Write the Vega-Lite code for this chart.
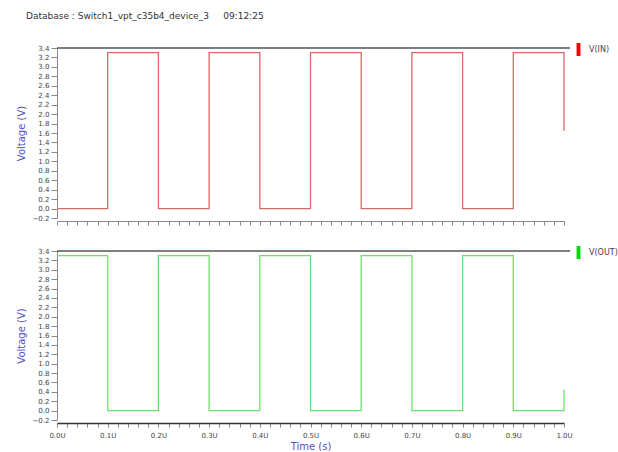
{
  "$schema": "https://vega.github.io/schema/vega-lite/v6.json",
  "padding": {"left": 16, "top": 12, "right": 5, "bottom": 0},
  "background": "white",
  "title": {"text": "Database : Switch1_vpt_c35b4_device_3\u00a0\u00a0\u00a0\u00a0\u00a009:12:25", "anchor": "start", "fontSize": 9, "font": "DejaVu Sans", "fontWeight": "normal", "color": "#333333", "offset": 22, "dx": 10},
  "datasets": {
    "vin": [
      {"i": 0, "t": 0.0, "v": 0.0, "s": "V(IN)"},
      {"i": 1, "t": 0.1, "v": 0.0, "s": "V(IN)"},
      {"i": 2, "t": 0.1, "v": 3.3, "s": "V(IN)"},
      {"i": 3, "t": 0.2, "v": 3.3, "s": "V(IN)"},
      {"i": 4, "t": 0.2, "v": 0.0, "s": "V(IN)"},
      {"i": 5, "t": 0.3, "v": 0.0, "s": "V(IN)"},
      {"i": 6, "t": 0.3, "v": 3.3, "s": "V(IN)"},
      {"i": 7, "t": 0.4, "v": 3.3, "s": "V(IN)"},
      {"i": 8, "t": 0.4, "v": 0.0, "s": "V(IN)"},
      {"i": 9, "t": 0.5, "v": 0.0, "s": "V(IN)"},
      {"i": 10, "t": 0.5, "v": 3.3, "s": "V(IN)"},
      {"i": 11, "t": 0.6, "v": 3.3, "s": "V(IN)"},
      {"i": 12, "t": 0.6, "v": 0.0, "s": "V(IN)"},
      {"i": 13, "t": 0.7, "v": 0.0, "s": "V(IN)"},
      {"i": 14, "t": 0.7, "v": 3.3, "s": "V(IN)"},
      {"i": 15, "t": 0.8, "v": 3.3, "s": "V(IN)"},
      {"i": 16, "t": 0.8, "v": 0.0, "s": "V(IN)"},
      {"i": 17, "t": 0.9, "v": 0.0, "s": "V(IN)"},
      {"i": 18, "t": 0.9, "v": 3.3, "s": "V(IN)"},
      {"i": 19, "t": 1.0, "v": 3.3, "s": "V(IN)"},
      {"i": 20, "t": 1.0, "v": 1.65, "s": "V(IN)"}
    ],
    "vout": [
      {"i": 0, "t": 0.0, "v": 3.3, "s": "V(OUT)"},
      {"i": 1, "t": 0.1, "v": 3.3, "s": "V(OUT)"},
      {"i": 2, "t": 0.1, "v": 0.0, "s": "V(OUT)"},
      {"i": 3, "t": 0.2, "v": 0.0, "s": "V(OUT)"},
      {"i": 4, "t": 0.2, "v": 3.3, "s": "V(OUT)"},
      {"i": 5, "t": 0.3, "v": 3.3, "s": "V(OUT)"},
      {"i": 6, "t": 0.3, "v": 0.0, "s": "V(OUT)"},
      {"i": 7, "t": 0.4, "v": 0.0, "s": "V(OUT)"},
      {"i": 8, "t": 0.4, "v": 3.3, "s": "V(OUT)"},
      {"i": 9, "t": 0.5, "v": 3.3, "s": "V(OUT)"},
      {"i": 10, "t": 0.5, "v": 0.0, "s": "V(OUT)"},
      {"i": 11, "t": 0.6, "v": 0.0, "s": "V(OUT)"},
      {"i": 12, "t": 0.6, "v": 3.3, "s": "V(OUT)"},
      {"i": 13, "t": 0.7, "v": 3.3, "s": "V(OUT)"},
      {"i": 14, "t": 0.7, "v": 0.0, "s": "V(OUT)"},
      {"i": 15, "t": 0.8, "v": 0.0, "s": "V(OUT)"},
      {"i": 16, "t": 0.8, "v": 3.3, "s": "V(OUT)"},
      {"i": 17, "t": 0.9, "v": 3.3, "s": "V(OUT)"},
      {"i": 18, "t": 0.9, "v": 0.0, "s": "V(OUT)"},
      {"i": 19, "t": 1.0, "v": 0.0, "s": "V(OUT)"},
      {"i": 20, "t": 1.0, "v": 0.45, "s": "V(OUT)"}
    ],
    "frame": [{"i": 0, "t": 0, "v": 3.4}, {"i": 1, "t": 1.012, "v": 3.4}]
  },
  "config": {
    "view": {"stroke": null},
    "font": "DejaVu Sans",
    "axis": {"grid": false, "labelFont": "DejaVu Sans", "labelFontSize": 7, "labelColor": "#444444", "tickColor": "#888888", "domainColor": "#888888", "titleFont": "DejaVu Sans", "titleFontSize": 10, "titleFontWeight": "normal", "titleColor": "#5050c8"}
  },
  "resolve": {"scale": {"color": "independent"}, "legend": {"color": "independent"}},
  "spacing": 20,
  "vconcat": [
    {
      "width": 507,
      "height": 170,
      "encoding": {
        "x": {"field": "t", "type": "quantitative", "scale": {"domain": [0, 1.0], "nice": false, "zero": false},
          "axis": {"values": [0,0.02,0.04,0.06,0.08,0.1,0.12,0.14,0.16,0.18,0.2,0.22,0.24,0.26,0.28,0.3,0.32,0.34,0.36,0.38,0.4,0.42,0.44,0.46,0.48,0.5,0.52,0.54,0.56,0.58,0.6,0.62,0.64,0.66,0.68,0.7,0.72,0.74,0.76,0.78,0.8,0.82,0.84,0.86,0.88,0.9,0.92,0.94,0.96,0.98,1.0], "labels": false, "title": null, "offset": 3, "tickSize": 4}},
        "y": {"field": "v", "type": "quantitative", "scale": {"domain": [-0.2, 3.4], "nice": false, "zero": false},
          "axis": {"values": [-0.2,0,0.2,0.4,0.6,0.8,1.0,1.2,1.4,1.6,1.8,2.0,2.2,2.4,2.6,2.8,3.0,3.2,3.4], "format": ".1f", "title": "Voltage (V)", "tickSize": 6, "labelPadding": 2, "titlePadding": 6, "labelOverlap": false}},
        "order": {"field": "i", "type": "quantitative"}
      },
      "layer": [
        {
          "data": {"name": "vin"},
          "mark": {"type": "line", "strokeWidth": 1.3, "clip": false},
          "encoding": {
            "color": {"field": "s", "type": "nominal", "scale": {"domain": ["V(IN)"], "range": ["#d96a6a"]},
              "legend": {"orient": "none", "legendX": 515, "legendY": -5, "title": null, "labelFontSize": 8, "labelColor": "#444444", "labelFont": "DejaVu Sans", "symbolType": "M-0.3,-1L0.3,-1L0.3,1L-0.3,1Z", "symbolSize": 169, "labelOffset": 4, "padding": 0,
                "encode": {"symbols": {"update": {"fill": {"value": "#ff0000"}, "stroke": {"value": "#ff0000"}, "strokeWidth": {"value": 0}}}}}}
          }
        },
        {
          "data": {"name": "frame"},
          "mark": {"type": "line", "color": "#555555", "strokeWidth": 1.5, "clip": false}
        }
      ]
    },
    {
      "width": 507,
      "height": 169,
      "encoding": {
        "x": {"field": "t", "type": "quantitative", "scale": {"domain": [0, 1.0], "nice": false, "zero": false},
          "axis": {"values": [0,0.02,0.04,0.06,0.08,0.1,0.12,0.14,0.16,0.18,0.2,0.22,0.24,0.26,0.28,0.3,0.32,0.34,0.36,0.38,0.4,0.42,0.44,0.46,0.48,0.5,0.52,0.54,0.56,0.58,0.6,0.62,0.64,0.66,0.68,0.7,0.72,0.74,0.76,0.78,0.8,0.82,0.84,0.86,0.88,0.9,0.92,0.94,0.96,0.98,1.0],
            "labelExpr": "abs(datum.value*10 - round(datum.value*10)) < 0.001 ? format(datum.value, '.1f') + 'U' : ''", "labelOverlap": false, "labelFlush": false,
            "title": "Time (s)", "offset": 3, "tickSize": 4, "domainColor": "#333333", "domainWidth": 1.5, "labelPadding": 4, "titlePadding": 3}},
        "y": {"field": "v", "type": "quantitative", "scale": {"domain": [-0.2, 3.4], "nice": false, "zero": false},
          "axis": {"values": [-0.2,0,0.2,0.4,0.6,0.8,1.0,1.2,1.4,1.6,1.8,2.0,2.2,2.4,2.6,2.8,3.0,3.2,3.4], "format": ".1f", "title": "Voltage (V)", "tickSize": 6, "labelPadding": 2, "titlePadding": 6, "labelOverlap": false}},
        "order": {"field": "i", "type": "quantitative"}
      },
      "layer": [
        {
          "data": {"name": "vout"},
          "mark": {"type": "line", "strokeWidth": 1.3, "clip": false},
          "encoding": {
            "color": {"field": "s", "type": "nominal", "scale": {"domain": ["V(OUT)"], "range": ["#6fe06f"]},
              "legend": {"orient": "none", "legendX": 515, "legendY": -5, "title": null, "labelFontSize": 8, "labelColor": "#444444", "labelFont": "DejaVu Sans", "symbolType": "M-0.3,-1L0.3,-1L0.3,1L-0.3,1Z", "symbolSize": 169, "labelOffset": 4, "padding": 0,
                "encode": {"symbols": {"update": {"fill": {"value": "#00dd00"}, "stroke": {"value": "#00dd00"}, "strokeWidth": {"value": 0}}}}}}
          }
        },
        {
          "data": {"name": "frame"},
          "mark": {"type": "line", "color": "#555555", "strokeWidth": 1.5, "clip": false}
        }
      ]
    }
  ]
}
